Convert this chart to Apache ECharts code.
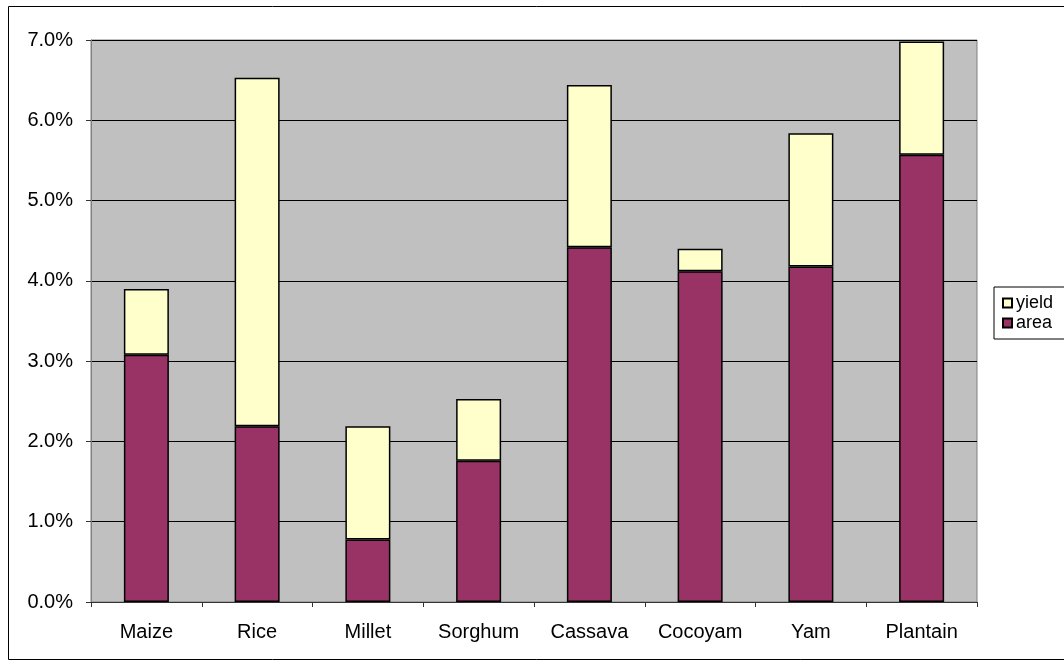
<!DOCTYPE html>
<html>
<head>
<meta charset="utf-8">
<script src="https://cdn.jsdelivr.net/npm/echarts@6/dist/echarts.min.js"></script>
<style>
html,body{margin:0;padding:0;background:#fff;}
#chart{width:1064px;height:665px;}
</style>
</head>
<body>
<div id="chart"></div>
<script>
const categories = ['Maize','Rice','Millet','Sorghum','Cassava','Cocoyam','Yam','Plantain'];
const areaValues = [3.08, 2.19, 0.78, 1.76, 4.42, 4.12, 4.18, 5.57];
const yieldValues = [0.82, 4.34, 1.41, 0.77, 2.02, 0.28, 1.66, 1.41];
const yTicks = [0, 1, 2, 3, 4, 5, 6, 7];

const chart = echarts.init(document.getElementById('chart'), null, {renderer:'canvas'});
const font = 'Liberation Sans, Arial, sans-serif';
chart.setOption({
  animation: false,
  backgroundColor: '#ffffff',
  textStyle: {fontFamily: font},
  graphic: [{
    type: 'rect', silent: true, z: -10,
    shape: {x: 8.5, y: 6.5, width: 1070, height: 653},
    style: {fill: 'none', stroke: '#000', lineWidth: 1}
  }],
  grid: {
    left: 91, top: 40, width: 886, height: 562,
    show: true, backgroundColor: '#C0C0C0', borderColor: '#808080', borderWidth: 1
  },
  legend: {
    data: ['yield', 'area'],
    orient: 'vertical',
    left: 994, top: 287,
    backgroundColor: '#fff',
    borderColor: '#000', borderWidth: 1,
    padding: [7, 30, 7, 8],
    itemGap: 2,
    itemWidth: 9, itemHeight: 9,
    icon: 'rect',
    textStyle: {fontSize: 18, color: '#000', fontFamily: font, padding: [0,0,0,-1]}
  },
  xAxis: {
    type: 'category',
    data: categories,
    boundaryGap: true,
    axisLine: {lineStyle: {color: '#333', width: 1}},
    axisTick: {show: true, length: 5, lineStyle: {color: '#333'}},
    axisLabel: {fontSize: 20, color: '#000', margin: 20, fontFamily: font}
  },
  yAxis: {
    type: 'value',
    min: 0, max: 7, interval: 1,
    axisLine: {show: true, lineStyle: {color: '#808080'}},
    axisTick: {show: true, length: 5, lineStyle: {color: '#333'}},
    axisLabel: {fontSize: 20, color: '#000', margin: 18, fontFamily: font,
      formatter: v => v.toFixed(1) + '%'},
    splitLine: {show: true, lineStyle: {color: '#000', width: 1}}
  },
  series: [
    {
      name: 'area', type: 'bar', stack: 'total',
      data: areaValues, barWidth: 45,
      itemStyle: {color: '#993366', borderColor: '#000', borderWidth: 1.5}
    },
    {
      name: 'yield', type: 'bar', stack: 'total',
      data: yieldValues, barWidth: 45,
      itemStyle: {color: '#FFFFCC', borderColor: '#000', borderWidth: 1.5}
    }
  ]
});
</script>
</body>
</html>
